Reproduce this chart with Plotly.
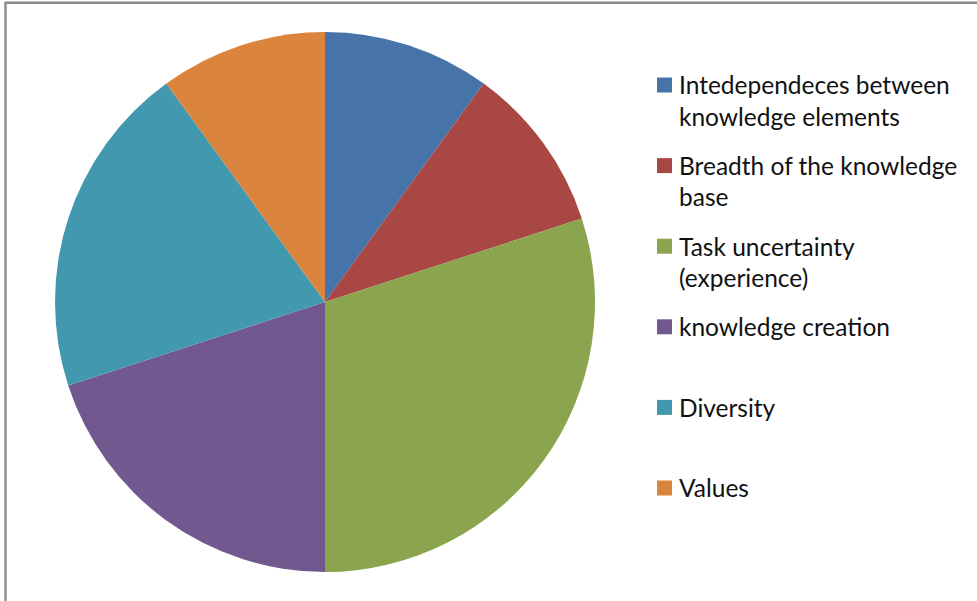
import plotly.graph_objects as go

# Share of each factor (percent)
labels = [
    "Intedependeces between knowledge elements",
    "Breadth of the knowledge base",
    "Task uncertainty (experience)",
    "knowledge creation",
    "Diversity",
    "Values",
]
legend_lines = [
    ["Intedependeces between", "knowledge elements"],
    ["Breadth of the knowledge", "base"],
    ["Task uncertainty", "(experience)"],
    ["knowledge creation"],
    ["Diversity"],
    ["Values"],
]
values = [10, 10, 30, 20, 20, 10]
colors = ["#4673A8", "#A94744", "#8AA54D", "#71598F", "#4298AF", "#DA843D"]

W, H = 977, 601


def px(x):
    return x / W


def py(y):
    return 1 - y / H


fig = go.Figure()
fig.add_trace(go.Pie(
    labels=labels,
    values=values,
    marker=dict(colors=colors, line=dict(width=0)),
    sort=False,
    direction="clockwise",
    rotation=0,
    textinfo="none",
    hoverinfo="label+percent",
    showlegend=False,
    domain=dict(x=[px(55), px(595)], y=[py(572), py(32)]),
))

shapes = [
    # chart frame
    dict(type="rect", xref="paper", yref="paper",
         x0=px(5.5), x1=px(1000), y0=py(2.8), y1=py(640),
         line=dict(color="#8C8C8C", width=2.4), fillcolor="rgba(0,0,0,0)"),
]
annotations = []

# Legend: colour square plus wrapped label, one slot per category
slot_top = 85
slot_h = 80.6
line_h = 31
font = dict(family="Lato, Carlito, Open Sans, sans-serif", size=24.5, color="#111111")
for i, (lines, c) in enumerate(zip(legend_lines, colors)):
    cy = slot_top + i * slot_h
    shapes.append(dict(type="rect", xref="paper", yref="paper",
                       x0=px(657), x1=px(672), y0=py(cy + 7.5), y1=py(cy - 7.5),
                       line=dict(width=0), fillcolor=c))
    for j, t in enumerate(lines):
        annotations.append(dict(
            xref="paper", yref="paper", x=px(677), y=py(cy + j * line_h),
            xanchor="left", yanchor="middle", text=t, showarrow=False,
            font=font))

fig.update_layout(
    width=W, height=H,
    margin=dict(l=0, r=0, t=0, b=0),
    paper_bgcolor="white",
    plot_bgcolor="white",
    shapes=shapes,
    annotations=annotations,
)

fig.write_html("out.html")
